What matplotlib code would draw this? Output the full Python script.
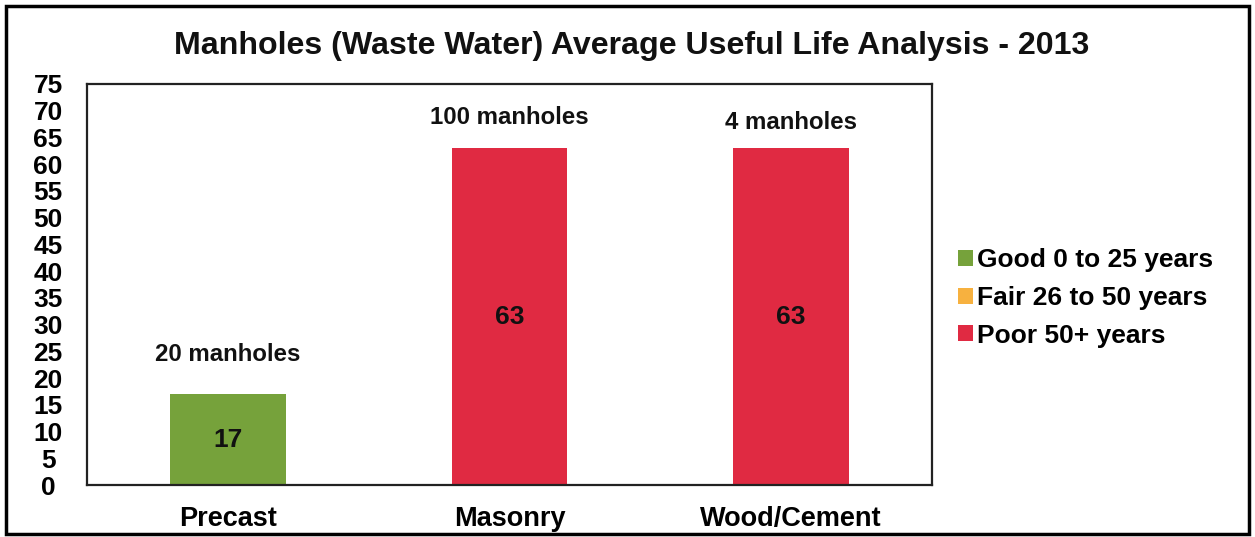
import matplotlib
matplotlib.use('agg')
import matplotlib.pyplot as plt
from matplotlib.patches import Rectangle
import numpy as np

plt.rcParams['font.family'] = ['Liberation Sans', 'DejaVu Sans']

# chart data
categories = ["Precast", "Masonry", "Wood/Cement"]
good = [17, 0, 0]
fair = [0, 0, 0]
poor = [0, 63, 63]
counts = ["20 manholes", "100 manholes", "4 manholes"]
series_names = ["Good 0 to 25 years", "Fair 26 to 50 years", "Poor 50+ years"]
colors = ["#76a23b", "#f7b13f", "#e02a42"]
y_ticks = list(range(0, 80, 5))

fig = plt.figure(figsize=(12.55, 5.37), dpi=100)
ax = fig.add_axes([0.0693, 0.0968, 0.6733, 0.7468])

x = np.arange(len(categories))
width = 0.41
bottom = np.zeros(len(categories))
for vals, name, col in zip([good, fair, poor], series_names, colors):
    ax.bar(x, vals, width, bottom=bottom, color=col, label=name, linewidth=0)
    bottom += np.array(vals)

# value labels in the middle of each bar
totals = bottom
for xi, tot in zip(x, totals):
    ax.text(xi, tot / 2, f"{int(tot)}", ha='center', va='center',
            fontsize=19, fontweight='bold', color='#111111')

# count labels above the bars
offsets = [7.5, 5.7, 4.8]
for xi, tot, lab, off in zip(x, totals, counts, offsets):
    ax.text(xi, tot + off, lab, ha='center', va='center',
            fontsize=17.3, fontweight='bold', color='#111111')

ax.set_xlim(-0.5, len(categories) - 0.5)
ax.set_ylim(0, 75)
ax.set_yticks(y_ticks)
ax.set_yticklabels([str(t) for t in y_ticks], fontsize=19, fontweight='bold')
ax.set_xticks(x)
ax.set_xticklabels(categories, fontsize=19.5, fontweight='bold')
ax.tick_params(axis='both', length=0)
ax.tick_params(axis='y', pad=28)
ax.tick_params(axis='x', pad=15)
for lbl in ax.get_yticklabels():
    lbl.set_horizontalalignment('center')
for sp in ax.spines.values():
    sp.set_linewidth(1.6)
    sp.set_color('#222222')

fig.text(0.503, 0.915, "Manholes (Waste Water) Average Useful Life Analysis - 2013",
         ha='center', va='center', fontsize=23.1, fontweight='bold', color='#111111')

leg = fig.legend(loc='center left', bbox_to_anchor=(0.763, 0.445),
                 frameon=False, fontsize=19, handlelength=0.6, handleheight=0.55,
                 handletextpad=0.15, labelspacing=0.52, borderaxespad=0, borderpad=0)
for t in leg.get_texts():
    t.set_fontweight('bold')

# outer frame
fig.patches.append(Rectangle((0.005, 0.006), 0.99, 0.982, transform=fig.transFigure,
                             fill=False, edgecolor='black', linewidth=2.5))

fig.savefig("out.png", dpi=100)
